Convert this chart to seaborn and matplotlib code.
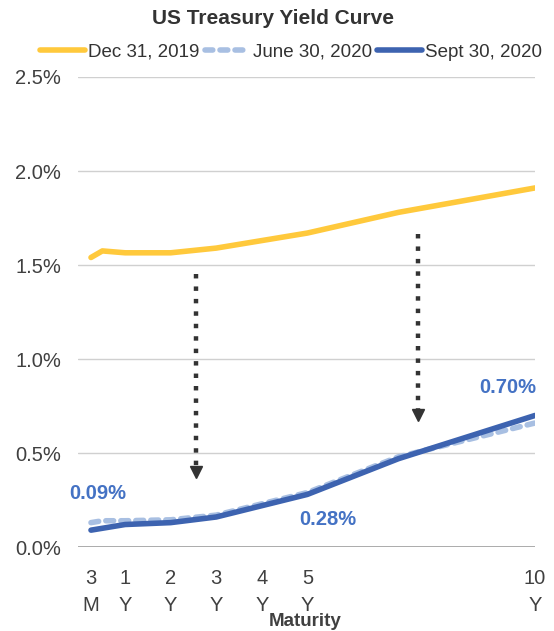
import numpy as np
import pandas as pd
import matplotlib.pyplot as plt
import seaborn as sns

# maturities in years
maturity = [0.25, 0.5, 1, 2, 3, 5, 7, 10]
tick_pos = [0.25, 1, 2, 3, 4, 5, 10]
tick_labels = ["3\nM", "1\nY", "2\nY", "3\nY", "4\nY", "5\nY", "10\nY"]

dec_2019 = [1.54, 1.575, 1.565, 1.565, 1.59, 1.67, 1.78, 1.91]
jun_2020 = [0.13, 0.14, 0.14, 0.145, 0.17, 0.29, 0.48, 0.66]
sep_2020 = [0.09, 0.10, 0.12, 0.13, 0.16, 0.28, 0.47, 0.70]

series = ["Dec 31, 2019", "June 30, 2020", "Sept 30, 2020"]
colors = {"Dec 31, 2019": "#FFC93C", "June 30, 2020": "#A8BFE2", "Sept 30, 2020": "#3D63B0"}
june_dash = (1.4, 1.3)

df = pd.DataFrame({
    "maturity": maturity * 3,
    "yield": dec_2019 + jun_2020 + sep_2020,
    "series": np.repeat(series, len(maturity)),
})

sns.set_style("white")
plt.rcParams["font.family"] = ["Liberation Sans", "DejaVu Sans"]

fig = plt.figure(figsize=(5.54, 6.31), dpi=100)
ax = fig.add_axes([0.1408, 0.133, 0.825, 0.745])

sns.lineplot(data=df, x="maturity", y="yield", hue="series", style="series",
             palette=colors, dashes={"Dec 31, 2019": "", "June 30, 2020": june_dash,
                                     "Sept 30, 2020": ""},
             linewidth=4, ax=ax, legend=False, sort=False)
for line in ax.lines:
    line.set_solid_capstyle("round")
    line.set_dash_capstyle("round")
    # Sept on top of June
    if line.get_color().lower() == colors["Sept 30, 2020"].lower():
        line.set_zorder(4)

ax.set_xlim(-0.035, 10)
ax.set_ylim(0, 2.5)
yt = [0, 0.5, 1.0, 1.5, 2.0, 2.5]
ax.set_yticks(yt)
ax.set_yticklabels([f"{v:.1f}%" for v in yt])
ax.set_xticks(tick_pos)
ax.set_xticklabels(tick_labels, linespacing=1.5)
ax.tick_params(axis="both", labelsize=14.5, colors="#404040", length=0)
ax.tick_params(axis="x", pad=16)
ax.tick_params(axis="y", pad=12)
ax.yaxis.grid(True, color="#D0D0D0", linewidth=1)
ax.xaxis.grid(False)
for s in ax.spines.values():
    s.set_visible(False)
ax.axhline(0, color="#A6A6A6", linewidth=1.3, zorder=1)
ax.set_xlabel("")
ax.set_ylabel("")
fig.text(305 / 554, 1 - 621 / 631, "Maturity", ha="center", va="center",
         fontsize=13.5, fontweight="bold", color="#404040")

# dotted arrows showing the drop in yields
for x0, y_start, y_end in [(2.55, 1.45, 0.40), (7.43, 1.665, 0.70)]:
    ax.plot([x0, x0], [y_start, y_end + 0.02], color="#333333", linewidth=3.2,
            linestyle=(0, (1, 1.8)), zorder=5)
    ax.plot([x0], [y_end], marker="v", markersize=9, color="#333333",
            linestyle="none", zorder=5)

# value labels
lab_kw = dict(color="#4472C4", fontsize=14.5, fontweight="bold")
ax.text(0.4, 0.285, f"{sep_2020[0]:.2f}%", ha="center", va="center", **lab_kw)
ax.text(5.45, 0.145, f"{sep_2020[5]:.2f}%", ha="center", va="center", **lab_kw)
ax.text(10.02, 0.85, f"{sep_2020[-1]:.2f}%", ha="right", va="center", **lab_kw)

fig.text(273 / 554, 1 - 19 / 631, "US Treasury Yield Curve", ha="center", va="center",
         fontsize=15, fontweight="bold", color="#333333")

handles = [
    plt.Line2D([], [], color=colors["Dec 31, 2019"], linewidth=4, solid_capstyle="round"),
    plt.Line2D([], [], color=colors["June 30, 2020"], linewidth=4, linestyle=(0, june_dash),
               dash_capstyle="round"),
    plt.Line2D([], [], color=colors["Sept 30, 2020"], linewidth=4, solid_capstyle="round"),
]
fig.legend(handles, series, loc="center", bbox_to_anchor=(291 / 554, 1 - 52 / 631), ncol=3,
           frameon=False, fontsize=13.5, handlelength=2.4, handletextpad=0.15,
           columnspacing=0.3, labelcolor="#333333", borderpad=0, borderaxespad=0)

fig.savefig("out.png", dpi=100)
